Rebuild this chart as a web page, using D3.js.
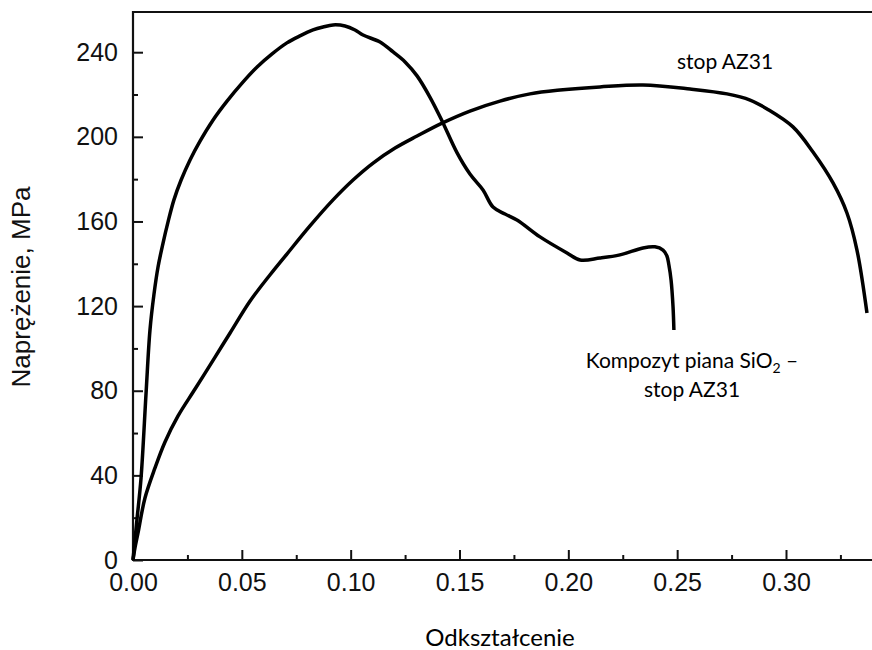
<!DOCTYPE html>
<html>
<head>
<meta charset="utf-8">
<script src="https://cdn.jsdelivr.net/npm/d3@7"></script>
<style>
  body { margin: 0; background: #fff; }
  svg { display: block; }
  .tick text { font-family: "Liberation Sans", Arial, sans-serif; }
</style>
</head>
<body>
<svg id="chart"></svg>
<script>
// strain (Odkształcenie) / stress (Naprężenie, MPa)
const compositeStrain = [0, 0.0018, 0.0037, 0.0060, 0.0078, 0.0096, 0.0115, 0.0138, 0.0161, 0.0188, 0.0221,
  0.0262, 0.0308, 0.0368, 0.0432, 0.0501, 0.0570, 0.0639, 0.0707, 0.0767, 0.0827, 0.0873, 0.0919, 0.0974,
  0.1020, 0.1057, 0.1135, 0.1195, 0.1250, 0.1305, 0.1364, 0.1420, 0.1489, 0.1548, 0.1608, 0.1654, 0.1709,
  0.1764, 0.1870, 0.1994, 0.2054, 0.2145, 0.2237, 0.2343, 0.2398, 0.2435, 0.2453, 0.2462, 0.2472, 0.2481, 0.2485];
const compositeStress = [0, 18.9, 38.8, 78.9, 108.7, 125.3, 138.5, 149.8, 159.8, 170.2, 179.6,
  189.1, 198.0, 208.0, 216.9, 225.4, 233.0, 239.2, 244.4, 247.7, 250.5, 251.9, 252.9, 252.4,
  250.5, 248.1, 244.8, 240.1, 235.4, 228.8, 218.8, 207.5, 192.4, 182.4, 174.9, 166.8, 163.5,
  160.7, 152.7, 145.1, 141.8, 142.7, 144.2, 147.5, 148.0, 146.5, 143.7, 139.4, 132.3, 119.6, 108.7];

const az31Strain = [0, 0.0009, 0.0023, 0.0055, 0.0101, 0.0147, 0.0207, 0.0285, 0.0377, 0.0446, 0.0538, 0.0629,
  0.0707, 0.0813, 0.0919, 0.1011, 0.1103, 0.1204, 0.1305, 0.1420, 0.1548, 0.1686, 0.1824, 0.1962,
  0.2145, 0.2343, 0.2559, 0.2729, 0.2835, 0.2913, 0.3032, 0.3124, 0.3216, 0.3280, 0.3326, 0.3372];
const az31Stress = [0, 5.7, 12.8, 29.3, 43.5, 55.8, 68.1, 80.8, 95.9, 107.3, 122.4, 134.7,
  144.6, 157.9, 170.2, 179.6, 187.6, 194.7, 200.4, 206.5, 212.2, 216.9, 220.3, 222.1,
  223.6, 224.5, 222.6, 220.3, 217.4, 213.2, 204.7, 192.8, 178.2, 164.0, 146.5, 116.7];

const xTicks = [0, 0.05, 0.10, 0.15, 0.20, 0.25, 0.30];
const xMinorTicks = [0.025, 0.075, 0.125, 0.175, 0.225, 0.275, 0.325];
const yTicks = [0, 40, 80, 120, 160, 200, 240];
const yMinorTicks = [20, 60, 100, 140, 180, 220];

const width = 872;
const height = 650;
const margin = {top: 12, left: 133, bottom: 90};

const svg = d3.select('#chart')
  .attr('width', width)
  .attr('height', height);

const xScale = d3.scaleLinear()
  .domain([0, 0.30])
  .range([margin.left, 786]);

const yScale = d3.scaleLinear()
  .domain([0, 259])
  .range([height - margin.bottom, margin.top]);

const y0 = yScale(0);

// minor ticks (inward, no labels)
svg.append('g')
  .attr('transform', `translate(0, ${y0})`)
  .call(d3.axisBottom(xScale).tickValues(xMinorTicks).tickSize(-5).tickFormat(''))
  .call(g => g.select('.domain').remove());
svg.append('g')
  .attr('transform', `translate(${margin.left}, 0)`)
  .call(d3.axisLeft(yScale).tickValues(yMinorTicks).tickSize(-5).tickFormat(''))
  .call(g => g.select('.domain').remove());

// major ticks
const xAxisG = svg.append('g')
  .attr('transform', `translate(0, ${y0})`)
  .call(d3.axisBottom(xScale).tickValues(xTicks).tickSize(-10).tickPadding(7).tickFormat(d3.format('.2f')));
xAxisG.select('.domain').remove();
xAxisG.selectAll('text').style('font-size', '25px').attr('dy', '0.97em').attr('fill', '#111');

const yAxisG = svg.append('g')
  .attr('transform', `translate(${margin.left}, 0)`)
  .call(d3.axisLeft(yScale).tickValues(yTicks).tickSize(-10).tickPadding(15).tickFormat(d3.format('d')));
yAxisG.select('.domain').remove();
yAxisG.selectAll('text').style('font-size', '25px').attr('fill', '#111');

svg.selectAll('.tick line').attr('stroke', '#111').attr('stroke-width', 2);

// frame: left, bottom and top lines, right side runs out of the picture
svg.append('path')
  .attr('d', `M${width},${margin.top}H${margin.left}V${y0}H${width}`)
  .attr('fill', 'none')
  .attr('stroke', '#111')
  .attr('stroke-width', 2.2);

const line = d3.line()
  .x(d => xScale(d[0]))
  .y(d => yScale(d[1]))
  .curve(d3.curveCatmullRom.alpha(0.5));

const composite = compositeStrain.map((s, i) => [s, compositeStress[i]]);
const az31 = az31Strain.map((s, i) => [s, az31Stress[i]]);

svg.selectAll('path.curve')
  .data([az31, composite])
  .enter().append('path')
  .attr('class', 'curve')
  .attr('d', line)
  .attr('fill', 'none')
  .attr('stroke', '#000')
  .attr('stroke-width', 3.5)
  .attr('stroke-linejoin', 'round');

// labels
const labelFont = 'Lato, "Open Sans", sans-serif';

svg.append('text')
  .attr('x', 725)
  .attr('y', 69)
  .attr('text-anchor', 'middle')
  .style('font-family', labelFont)
  .style('font-size', '21px')
  .text('stop AZ31');

const compLabel = svg.append('text')
  .attr('x', 692)
  .attr('y', 368)
  .attr('text-anchor', 'middle')
  .style('font-family', labelFont)
  .style('font-size', '21px');
compLabel.append('tspan').text('Kompozyt piana SiO');
compLabel.append('tspan').attr('dy', 5).style('font-size', '14px').text('2');
compLabel.append('tspan').attr('dy', -5).text(' –');

svg.append('text')
  .attr('x', 692)
  .attr('y', 397)
  .attr('text-anchor', 'middle')
  .style('font-family', labelFont)
  .style('font-size', '21px')
  .text('stop AZ31');

svg.append('text')
  .attr('x', 500)
  .attr('y', 646)
  .attr('text-anchor', 'middle')
  .style('font-family', labelFont)
  .style('font-size', '24px')
  .text('Odkształcenie');

svg.append('text')
  .attr('transform', 'translate(30, 287) rotate(-90)')
  .attr('text-anchor', 'middle')
  .style('font-family', '"Liberation Sans", Arial, sans-serif')
  .style('font-size', '26px')
  .attr('fill', '#111')
  .text('Naprężenie, MPa');
</script>
</body>
</html>
